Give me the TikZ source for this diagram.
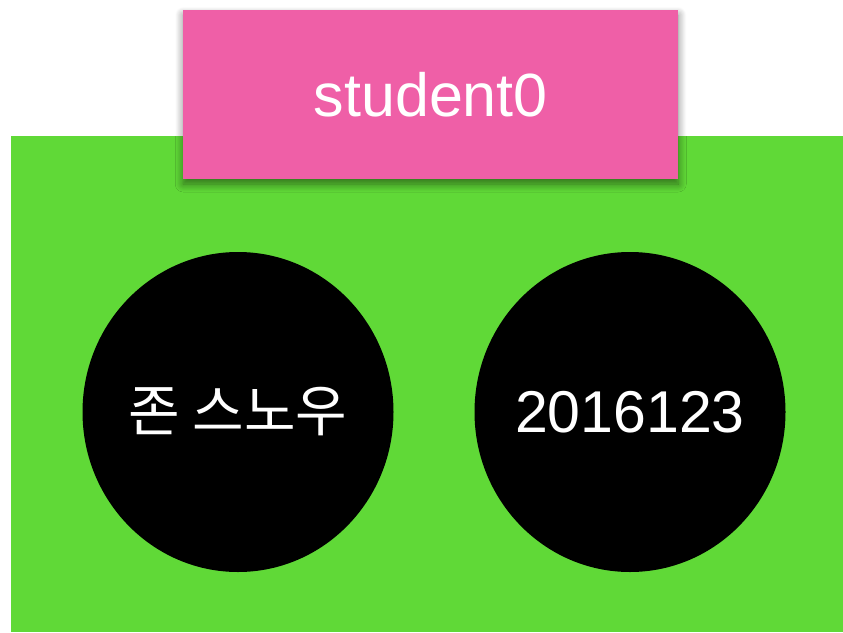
\documentclass[tikz,border=0pt]{standalone}
\usepackage{fontspec}
\setmainfont{Liberation Sans}
\newfontfamily\krfont{Noto Sans CJK KR}
\usetikzlibrary{shapes.geometric,shadows.blur}
\definecolor{bggreen}{HTML}{60D937}
\definecolor{tagpink}{HTML}{EF5FA7}
\tikzset{
  field/.style={ellipse, fill=black, minimum width=311pt, minimum height=320pt, inner sep=0pt},
  fieldtext/.style={text=white, font=\fontsize{59}{64}\selectfont, inner sep=0pt},
  tag/.style={fill=tagpink, minimum width=495pt, minimum height=169pt, inner sep=0pt, text=white, font=\fontsize{61}{66}\selectfont,
    blur shadow={shadow xshift=0pt, shadow yshift=-5pt, shadow blur radius=8pt, shadow blur steps=12, shadow opacity=50}},
}
\begin{document}
\begin{tikzpicture}[x=1pt,y=-1pt]
\useasboundingbox (0,0) rectangle (843,632);
\fill[bggreen] (11,136) rectangle (843,632);
\node[field] (name) at (238,412) {};
\node[fieldtext] (nametext) at (name.center) {\fontsize{56}{60}\selectfont\krfont 존 스노우};
\node[field] (id) at (630,412) {};
\node[fieldtext] (idtext) at (id.center) {2016123};
\node[tag] (obj) at (430.75,94.5) {student0};
\end{tikzpicture}
\end{document}
